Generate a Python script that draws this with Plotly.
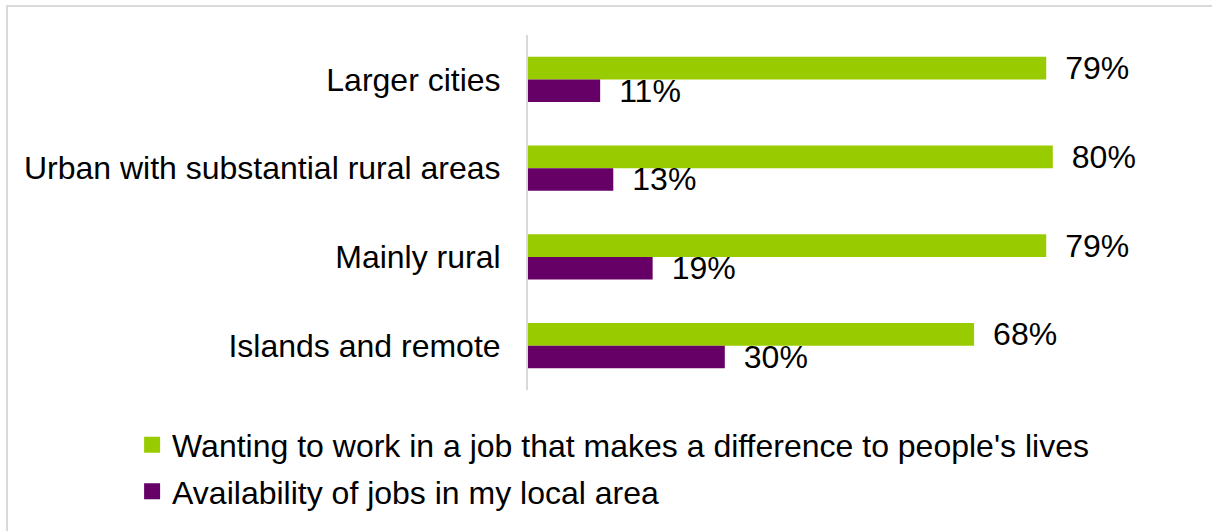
import plotly.graph_objects as go

categories = ["Larger cities", "Urban with substantial rural areas", "Mainly rural", "Islands and remote"]
series_names = ["Wanting to work in a job that makes a difference to people's lives",
                "Availability of jobs in my local area"]
wanting_difference = [79, 80, 79, 68]
local_jobs = [11, 13, 19, 30]
colors = ["#99cc00", "#660066"]

FONT = "Liberation Sans, Arial, sans-serif"
FS = 32

fig = go.Figure()
for i, (name, vals) in enumerate(zip(series_names, [wanting_difference, local_jobs])):
    fig.add_trace(go.Bar(
        y=categories, x=vals, orientation="h", name=name,
        marker=dict(color=colors[i], line=dict(width=0)),
        text=["\u2002%d%%" % v for v in vals], textposition="outside",
        constraintext="none",
        textfont=dict(family=FONT, size=FS, color="#000000"),
        cliponaxis=False, showlegend=False, hoverinfo="skip",
    ))
# legend proxies with larger square swatches
for i, name in enumerate(series_names):
    fig.add_trace(go.Scatter(
        x=[None], y=[None], mode="markers", name=name,
        marker=dict(symbol="square", size=16, color=colors[i]),
        legendgroup="g%d" % i, showlegend=True,
    ))

fig.update_layout(
    width=1212, height=531,
    paper_bgcolor="white", plot_bgcolor="white",
    margin=dict(l=528, r=28, t=35, b=141, autoexpand=False),
    barmode="group", bargap=0.49, bargroupgap=0,
    font=dict(family=FONT, size=FS, color="#000000"),
    xaxis=dict(range=[0, 100], visible=False, fixedrange=True, automargin=False),
    yaxis=dict(autorange="reversed", showline=True, linecolor="#d9d9d9", linewidth=2,
               ticks="outside", ticklen=19, tickcolor="rgba(0,0,0,0)", automargin=False,
               tickfont=dict(family=FONT, size=FS, color="#000000"), showgrid=False,
               fixedrange=True),
    legend=dict(orientation="v", xref="container", yref="container", x=0.109, y=0.214,
                xanchor="left", yanchor="top", traceorder="grouped", tracegroupgap=2,
                itemsizing="trace",
                font=dict(family=FONT, size=FS, color="#000000")),
    showlegend=True,
    shapes=[dict(type="rect", xref="paper", yref="paper",
                 x0=(7 - 528) / 656, x1=(1230 - 528) / 656,
                 y0=-0.6, y1=1 + (35 - 6) / 355,
                 line=dict(color="#d9d9d9", width=2), fillcolor="rgba(0,0,0,0)", layer="below")],
)

fig.write_html("out.html", config={"displayModeBar": False},
               post_script="document.body.style.margin='0';document.body.style.overflow='hidden';")
